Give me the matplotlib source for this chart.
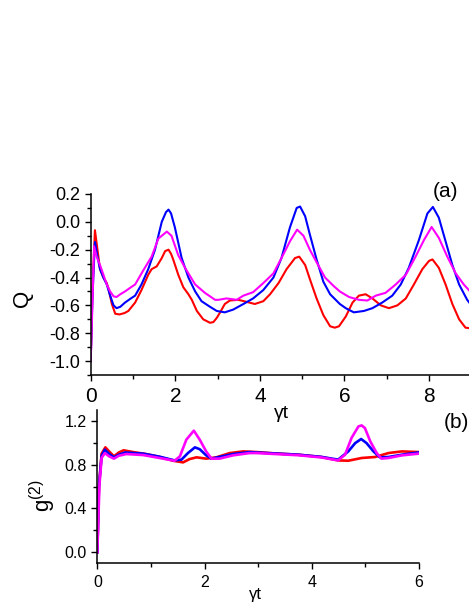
import matplotlib
matplotlib.use("Agg")
import matplotlib.pyplot as plt
from matplotlib.ticker import MultipleLocator

plt.rcParams['font.family'] = ['Liberation Sans', 'DejaVu Sans']
plt.rcParams['mathtext.fontset'] = 'custom'
plt.rcParams['mathtext.rm'] = 'Liberation Sans'
plt.rcParams['mathtext.it'] = 'Liberation Sans'

# ---- panel (a): Q vs gamma*t ----
q_red_t = [0, 0.04, 0.10, 0.16, 0.22, 0.30, 0.38, 0.42, 0.50, 0.58, 0.68, 0.80, 0.89, 1.05, 1.20,
           1.36, 1.44, 1.56, 1.68, 1.76, 1.84, 1.90, 1.95, 2.07, 2.19, 2.31, 2.39, 2.51, 2.66, 2.82,
           2.90, 2.98, 3.06, 3.17, 3.29, 3.49, 3.69, 3.88, 4.08, 4.24, 4.44, 4.63, 4.83, 4.93, 5.07,
           5.18, 5.34, 5.50, 5.66, 5.77, 5.87, 6.03, 6.19, 6.34, 6.50, 6.66, 6.86, 7.05, 7.25, 7.45,
           7.64, 7.84, 8.00, 8.08, 8.23, 8.39, 8.55, 8.71, 8.86, 9.0]
q_red = [-1.0, -0.5, -0.06, -0.2, -0.34, -0.40, -0.44, -0.48, -0.59, -0.66, -0.665, -0.655, -0.64,
         -0.58, -0.49, -0.38, -0.34, -0.32, -0.26, -0.21, -0.20, -0.23, -0.27, -0.38, -0.47, -0.52,
         -0.56, -0.64, -0.70, -0.725, -0.72, -0.69, -0.65, -0.59, -0.565, -0.56, -0.575, -0.59, -0.57,
         -0.52, -0.44, -0.34, -0.26, -0.25, -0.31, -0.41, -0.55, -0.67, -0.75, -0.76, -0.75, -0.68,
         -0.58, -0.53, -0.52, -0.55, -0.60, -0.62, -0.60, -0.55, -0.45, -0.34, -0.28, -0.27, -0.33,
         -0.45, -0.59, -0.70, -0.76, -0.765]

q_blue_t = [0, 0.04, 0.10, 0.16, 0.22, 0.30, 0.38, 0.46, 0.54, 0.61, 0.70, 0.81, 0.95, 1.05, 1.20,
            1.36, 1.52, 1.68, 1.78, 1.84, 1.90, 1.99, 2.15, 2.31, 2.47, 2.62, 2.82, 2.98, 3.17, 3.37,
            3.61, 3.84, 4.08, 4.32, 4.51, 4.71, 4.87, 4.95, 5.07, 5.18, 5.34, 5.50, 5.66, 5.89, 6.03,
            6.22, 6.46, 6.66, 6.89, 7.13, 7.33, 7.52, 7.76, 7.96, 8.09, 8.23, 8.39, 8.55, 8.71, 8.90, 9.0]
q_blue = [-1.0, -0.55, -0.145, -0.25, -0.34, -0.40, -0.45, -0.53, -0.60, -0.62, -0.61, -0.58, -0.55,
          -0.53, -0.45, -0.34, -0.20, 0.0, 0.07, 0.088, 0.06, -0.04, -0.26, -0.40, -0.50, -0.57, -0.61,
          -0.64, -0.65, -0.63, -0.59, -0.55, -0.49, -0.40, -0.26, -0.04, 0.10, 0.11, 0.04, -0.09, -0.27,
          -0.43, -0.52, -0.59, -0.62, -0.65, -0.64, -0.62, -0.58, -0.53, -0.45, -0.33, -0.13, 0.06,
          0.107, 0.03, -0.14, -0.31, -0.45, -0.56, -0.60]

q_mag_t = [0, 0.04, 0.08, 0.14, 0.22, 0.30, 0.38, 0.46, 0.54, 0.61, 0.70, 0.81, 0.95, 1.05, 1.24,
           1.44, 1.60, 1.72, 1.80, 1.91, 2.07, 2.23, 2.47, 2.70, 2.94, 3.02, 3.21, 3.45, 3.61, 3.84,
           4.08, 4.32, 4.51, 4.71, 4.88, 5.03, 5.18, 5.34, 5.54, 5.74, 5.89, 6.11, 6.34, 6.54, 6.74,
           6.97, 7.21, 7.45, 7.68, 7.88, 8.06, 8.23, 8.43, 8.63, 8.82, 9.0]
q_mag = [-1.0, -0.6, -0.175, -0.25, -0.31, -0.38, -0.45, -0.50, -0.535, -0.54, -0.52, -0.50, -0.47,
         -0.45, -0.35, -0.25, -0.12, -0.09, -0.07, -0.10, -0.24, -0.33, -0.45, -0.51, -0.56, -0.56,
         -0.55, -0.56, -0.53, -0.505, -0.44, -0.37, -0.26, -0.14, -0.056, -0.10, -0.20, -0.29, -0.40,
         -0.46, -0.50, -0.54, -0.56, -0.565, -0.53, -0.51, -0.45, -0.38, -0.25, -0.13, -0.037, -0.115,
         -0.25, -0.37, -0.45, -0.51]

# ---- panel (b): g2 vs gamma*t ----
g_red_t = [0, 0.03, 0.08, 0.15, 0.22, 0.31, 0.40, 0.49, 0.67, 0.91, 1.16, 1.41, 1.60, 1.72, 1.85,
           2.03, 2.22, 2.47, 2.72, 2.97, 3.31, 3.75, 4.18, 4.49, 4.68, 4.93, 5.18, 5.43, 5.68, 6.0]
g_red = [0.0, 0.6, 0.9, 0.957, 0.92, 0.875, 0.91, 0.93, 0.914, 0.896, 0.87, 0.835, 0.82, 0.85,
         0.866, 0.854, 0.866, 0.905, 0.92, 0.914, 0.902, 0.89, 0.869, 0.838, 0.835, 0.86, 0.869,
         0.905, 0.92, 0.914]

g_blue_t = [0, 0.03, 0.08, 0.14, 0.22, 0.31, 0.40, 0.52, 0.85, 1.16, 1.44, 1.57, 1.69, 1.82, 1.91,
            2.03, 2.13, 2.28, 2.53, 2.84, 2.97, 3.75, 4.18, 4.49, 4.68, 4.81, 4.92, 5.02, 5.15, 5.27,
            5.43, 5.68, 6.0]
g_blue = [0.0, 0.6, 0.88, 0.936, 0.896, 0.866, 0.89, 0.91, 0.90, 0.872, 0.838, 0.845, 0.905, 0.957,
          0.94, 0.884, 0.854, 0.87, 0.896, 0.914, 0.91, 0.89, 0.87, 0.845, 0.92, 0.996, 1.033, 0.996,
          0.92, 0.866, 0.869, 0.89, 0.911]

g_mag_t = [0, 0.04, 0.08, 0.14, 0.22, 0.31, 0.40, 0.54, 0.85, 1.16, 1.44, 1.54, 1.66, 1.80, 1.91,
           2.03, 2.13, 2.28, 2.53, 2.84, 2.97, 3.75, 4.18, 4.49, 4.62, 4.74, 4.87, 4.93, 4.99, 5.09,
           5.21, 5.30, 5.43, 5.68, 6.0]
g_mag = [0.0, 0.617, 0.86, 0.905, 0.875, 0.854, 0.88, 0.896, 0.887, 0.86, 0.835, 0.875, 1.027,
         1.109, 1.027, 0.92, 0.854, 0.854, 0.884, 0.905, 0.905, 0.885, 0.865, 0.838, 0.89, 1.042,
         1.148, 1.157, 1.133, 1.012, 0.905, 0.854, 0.86, 0.884, 0.90]

fig = plt.figure(figsize=(4.69, 6.07), dpi=100)

# top panel, runs a bit past the right edge like the original crop
ax1 = fig.add_axes([0.1934, 0.3822, 0.8117, 0.2982])
ax1.plot(q_red_t, q_red, color='#ff0000', lw=1.5)
ax1.plot(q_blue_t, q_blue, color='#0000ff', lw=1.5)
ax1.plot(q_mag_t, q_mag, color='#ff00ff', lw=1.5)
ax1.set_xlim(0, 9)
ax1.set_ylim(-1.1, 0.2)
ax1.xaxis.set_major_locator(MultipleLocator(2))
ax1.xaxis.set_minor_locator(MultipleLocator(1))
ax1.yaxis.set_major_locator(MultipleLocator(0.2))
ax1.yaxis.set_minor_locator(MultipleLocator(0.1))
ax1.yaxis.set_major_formatter(lambda v, p: f"{v:.1f}")
ax1.set_xlabel('γt', fontsize=14, ha='center', va='center')
ax1.xaxis.set_label_coords(0.5025, -0.21)
ax1.set_ylabel('Q', fontsize=16, ha='center', va='center')
ax1.yaxis.set_label_coords(-0.18, 0.425)

# bottom panel (transparent so the upper xlabel stays visible)
ax2 = fig.add_axes([0.2075, 0.072, 0.686, 0.253])
ax2.set_facecolor('none')
ax2.plot(g_red_t, g_red, color='#ff0000', lw=1.9)
ax2.plot(g_blue_t, g_blue, color='#0000ff', lw=1.9)
ax2.plot(g_mag_t, g_mag, color='#ff00ff', lw=1.9)
ax2.set_xlim(0, 6)
ax2.set_ylim(-0.1, 1.3)
ax2.xaxis.set_major_locator(MultipleLocator(2))
ax2.xaxis.set_minor_locator(MultipleLocator(1))
ax2.yaxis.set_major_locator(MultipleLocator(0.4))
ax2.yaxis.set_minor_locator(MultipleLocator(0.2))
ax2.yaxis.set_major_formatter(lambda v, p: f"{v:.1f}")
ax2.set_xlabel('γt', fontsize=12, ha='center', va='center')
ax2.xaxis.set_label_coords(0.49, -0.20)
ax2.set_ylabel(r'g$^{(2)}$', fontsize=16, ha='center', va='center')
ax2.yaxis.set_label_coords(-0.17, 0.44)

for ax in (ax1, ax2):
    ax.spines['top'].set_visible(False)
    ax.spines['right'].set_visible(False)
    ax.spines['left'].set_linewidth(1.1)
    ax.spines['bottom'].set_linewidth(1.1)
    ax.tick_params(which='major', direction='out', length=4.5, width=1.0, pad=3)
    ax.tick_params(which='minor', direction='out', length=3, width=1.0)
    ax.tick_params(axis='x', which='major', pad=4)

ax1.tick_params(axis='y', labelsize=13)
ax1.tick_params(axis='x', labelsize=15)
ax2.tick_params(axis='both', labelsize=11.5)

fig.text(433 / 469, 1 - 192 / 607, '(a)', fontsize=15, ha='left', va='center')
fig.text(444 / 469, 1 - 423 / 607, '(b)', fontsize=15, ha='left', va='center')

fig.savefig('out.png', dpi=100)
